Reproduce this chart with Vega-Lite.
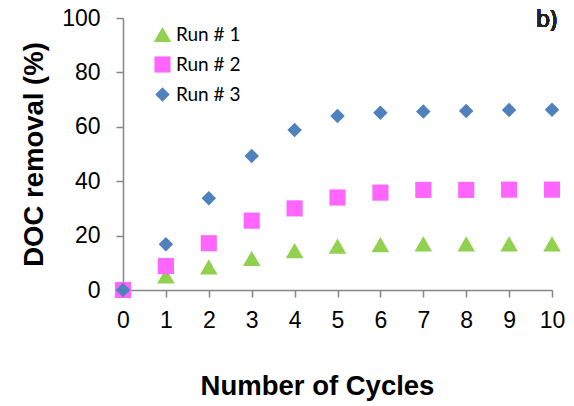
{
  "$schema": "https://vega.github.io/schema/vega-lite/v6.json",
  "width": 429,
  "height": 272,
  "autosize": {"type": "none"},
  "padding": {"left": 123, "top": 18, "right": 22, "bottom": 116},
  "background": "white",
  "config": {
    "view": {"stroke": null},
    "axis": {
      "grid": false,
      "domainColor": "#868686",
      "tickColor": "#868686",
      "domainWidth": 1.5,
      "tickWidth": 1.5,
      "tickSize": 7,
      "labelFont": "Liberation Sans",
      "labelFontSize": 23,
      "labelColor": "black",
      "titleFont": "Liberation Sans",
      "titleFontWeight": "bold",
      "titleFontSize": 27.5,
      "titleColor": "black"
    }
  },
  "data": {
    "values": [
      {"run": "Run # 1", "cycle": 0, "removal": 0},
      {"run": "Run # 1", "cycle": 1, "removal": 5.2},
      {"run": "Run # 1", "cycle": 2, "removal": 8.5},
      {"run": "Run # 1", "cycle": 3, "removal": 11.6},
      {"run": "Run # 1", "cycle": 4, "removal": 14.5},
      {"run": "Run # 1", "cycle": 5, "removal": 16.1},
      {"run": "Run # 1", "cycle": 6, "removal": 16.7},
      {"run": "Run # 1", "cycle": 7, "removal": 17},
      {"run": "Run # 1", "cycle": 8, "removal": 17},
      {"run": "Run # 1", "cycle": 9, "removal": 17},
      {"run": "Run # 1", "cycle": 10, "removal": 17},
      {"run": "Run # 2", "cycle": 0, "removal": 0},
      {"run": "Run # 2", "cycle": 1, "removal": 8.8},
      {"run": "Run # 2", "cycle": 2, "removal": 17.2},
      {"run": "Run # 2", "cycle": 3, "removal": 25.5},
      {"run": "Run # 2", "cycle": 4, "removal": 30},
      {"run": "Run # 2", "cycle": 5, "removal": 34},
      {"run": "Run # 2", "cycle": 6, "removal": 35.8},
      {"run": "Run # 2", "cycle": 7, "removal": 36.8},
      {"run": "Run # 2", "cycle": 8, "removal": 36.8},
      {"run": "Run # 2", "cycle": 9, "removal": 36.9},
      {"run": "Run # 2", "cycle": 10, "removal": 36.9},
      {"run": "Run # 3", "cycle": 0, "removal": 0},
      {"run": "Run # 3", "cycle": 1, "removal": 16.8},
      {"run": "Run # 3", "cycle": 2, "removal": 33.7},
      {"run": "Run # 3", "cycle": 3, "removal": 49.3},
      {"run": "Run # 3", "cycle": 4, "removal": 58.8},
      {"run": "Run # 3", "cycle": 5, "removal": 64},
      {"run": "Run # 3", "cycle": 6, "removal": 65.2},
      {"run": "Run # 3", "cycle": 7, "removal": 65.6},
      {"run": "Run # 3", "cycle": 8, "removal": 65.8},
      {"run": "Run # 3", "cycle": 9, "removal": 66.2},
      {"run": "Run # 3", "cycle": 10, "removal": 66.3}
    ]
  },
  "layer": [
    {
      "mark": {"type": "point", "filled": true, "opacity": 1, "strokeWidth": 0},
      "encoding": {
        "x": {
          "field": "cycle", "type": "quantitative",
          "scale": {"domain": [0, 10], "nice": false, "zero": false},
          "axis": {
            "values": [0, 1, 2, 3, 4, 5, 6, 7, 8, 9, 10],
            "title": "Number of Cycles",
            "labelPadding": 12,
            "labelFlush": false,
            "titlePadding": 40,
            "titleX": 194
          }
        },
        "y": {
          "field": "removal", "type": "quantitative",
          "scale": {"domain": [0, 100], "nice": false},
          "axis": {
            "values": [0, 10, 20, 30, 40, 50, 60, 70, 80, 90, 100],
            "labelExpr": "datum.value % 20 === 0 ? datum.label : ''",
            "title": "DOC removal (%)",
            "labelPadding": 16,
            "labelFlush": false,
            "titlePadding": 13
          }
        },
        "shape": {
          "field": "run", "type": "nominal",
          "scale": {"domain": ["Run # 1", "Run # 2", "Run # 3"], "range": ["triangle-up", "square", "diamond"]},
          "legend": {
            "title": null, "orient": "none", "legendX": 30, "legendY": 7,
            "labelFont": "Lato", "labelFontSize": 19, "labelColor": "black",
            "symbolSize": 210, "symbolOpacity": 1, "symbolStrokeWidth": 0,
            "rowPadding": 10, "labelOffset": 4, "padding": 0
          }
        },
        "color": {
          "field": "run", "type": "nominal",
          "scale": {"domain": ["Run # 1", "Run # 2", "Run # 3"], "range": ["#92D050", "#FF66FF", "#4F81BD"]},
          "legend": {
            "title": null, "orient": "none", "legendX": 30, "legendY": 7,
            "labelFont": "Lato", "labelFontSize": 19, "labelColor": "black",
            "symbolSize": 210, "symbolOpacity": 1, "symbolStrokeWidth": 0,
            "rowPadding": 10, "labelOffset": 4, "padding": 0
          }
        },
        "size": {
          "field": "run", "type": "nominal",
          "scale": {"domain": ["Run # 1", "Run # 2", "Run # 3"], "range": [310, 210, 330]},
          "legend": null
        }
      }
    },
    {
      "mark": {"type": "text", "font": "Noto Sans", "fontSize": 23, "fontWeight": 400, "align": "right", "baseline": "alphabetic", "dx": 5, "color": "#222222"},
      "encoding": {
        "x": {"datum": 10},
        "y": {"datum": 96.7},
        "text": {"value": "b)"}
      }
    }
  ]
}
